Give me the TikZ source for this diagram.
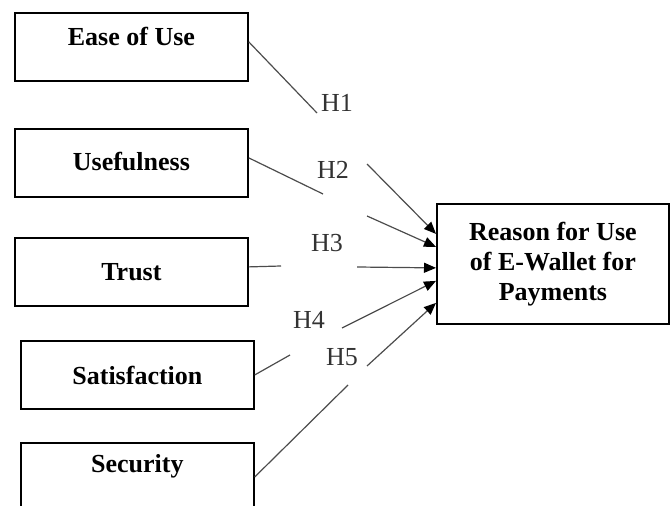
\documentclass[tikz,border=0pt]{standalone}
\usepackage{fontspec}
\setmainfont{Liberation Serif}
\usetikzlibrary{arrows.meta}
\newcommand{\boxwidth}{116.5pt}
\newcommand{\boxheight}{34pt}
\tikzset{
  factor/.style 2 args={draw, line width=.9pt, inner sep=0pt,
    minimum width=\boxwidth, minimum height=\boxheight, anchor=north west,
    font=\fontsize{13}{15}\selectfont\bfseries,
    text height=#1, text depth=#2},
  hlabel/.style={inner sep=0pt, text=black!80, font=\fontsize{13}{15}\selectfont},
  link/.style={draw=black!70, line width=.6pt}
}
\newcommand{\drawhyp}[6]{
  \coordinate (h#2a) at (#3);
  \coordinate (h#2b) at (#4);
  \node[hlabel] (h#2) at (#5) {H#2};
  \draw[link] (#1) -- (h#2a);
  \draw[link, -{Triangle[length=6pt, width=5pt, color=black]}]
    (h#2b) -- ([yshift=#6]reason.west);
}

\begin{document}
\begin{tikzpicture}[x=0.5pt, y=-0.5pt]
  \clip (0, 0) rectangle (672, 506);
  \node[factor={16.5pt}{17.5pt}] (ease)   at (14, 12)  {Ease of Use};
  \node[factor={21pt}{13pt}]     (useful) at (14, 128) {Usefulness};
  \node[factor={21.5pt}{12.5pt}] (trust)  at (14, 237) {Trust};
  \node[factor={22pt}{12pt}]     (satis)  at (20, 340) {Satisfaction};
  \node[factor={15pt}{19pt}]     (secur)  at (20, 442) {Security};
  \node[draw, line width=.9pt, anchor=north west, minimum width=116pt,
    minimum height=60pt, align=center,
    font=\fontsize{13}{15}\selectfont\bfseries] (reason) at (436, 203)
    {Reason for Use\\of E-Wallet for\\Payments};
  \drawhyp{[yshift=2.5pt]ease.east}{1}{317, 113}{367, 164}{337, 103}{15pt}
  \drawhyp{[yshift=2.5pt]useful.east}{2}{323, 194}{367, 216}{333, 170}{8.5pt}
  \drawhyp{[yshift=2.5pt]trust.east}{3}{281, 266}{357, 267}{327, 243}{-2pt}
  \drawhyp{satis.east}{4}{290, 355}{342, 328}{309, 320}{-8.5pt}
  \drawhyp{secur.east}{5}{348, 385}{367, 366}{342, 357}{-19.5pt}
\end{tikzpicture}
\end{document}
